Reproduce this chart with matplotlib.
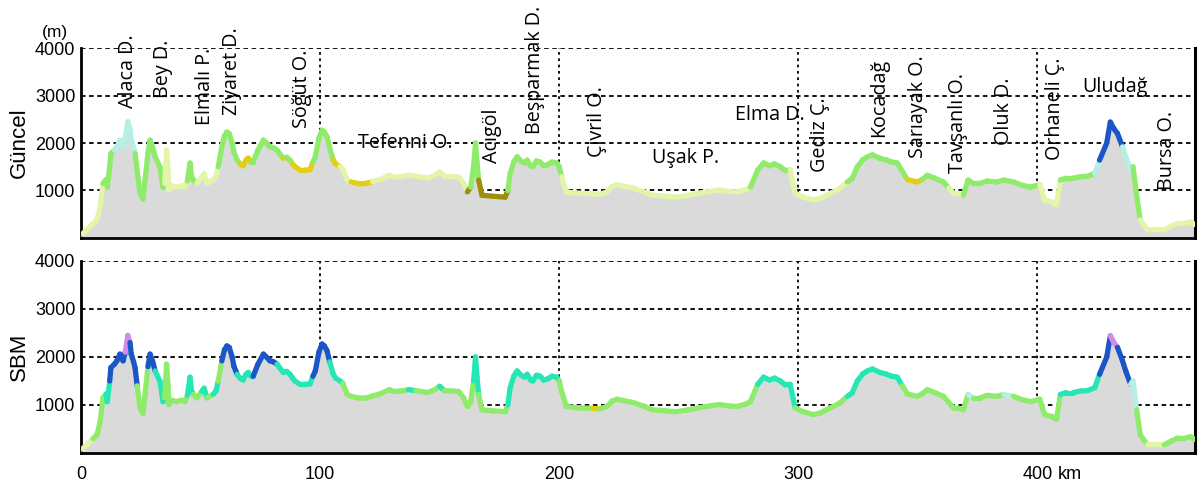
import numpy as np
import matplotlib
matplotlib.use("Agg")
import matplotlib.pyplot as plt
from matplotlib.collections import LineCollection

# --- elevation profile (km along route, elevation in m) ---
KM = [0.5, 3, 5, 6.7, 8, 9.2, 10.5, 11, 12, 12.5, 14, 15, 16.3, 17.6, 18.5, 19.6, 20.5, 21, 22,
      22.6, 23.5, 24.7, 25.9, 26.8, 28, 28.9, 30, 31, 32, 33, 34.3, 35, 35.8, 36.4, 36.8, 38, 40,
      42, 43.5, 44.5, 45.6, 46.2, 47, 48.5, 50.6, 51.5, 52.7, 55.3, 56.5, 57.4, 58.9, 60, 61, 62,
      63.2, 64, 65.3, 66.5, 67.8, 69, 70, 71, 72, 74, 76.3, 78, 79, 80.5, 82, 83, 84.6, 86, 87.4,
      88.5, 89.5, 91.6, 93.5, 95.8, 97, 98, 99.5, 100.8, 101.8, 102.9, 104, 105.5, 106.5, 108.4,
      109.5, 111.3, 113, 116.7, 119.5, 122, 125, 129, 131, 133.5, 137, 140, 145, 148, 150, 152,
      155.6, 158, 160, 161.6, 163, 164.2, 165, 165.6, 166.3, 167.7, 172, 177.4, 178.5, 179.5, 181,
      182.4, 184, 185.5, 186.6, 188, 189, 190.5, 192, 193.5, 195, 197, 199, 200, 201, 203, 206,
      209, 214, 217, 220, 222, 224, 227, 231, 235, 239, 244, 249, 254, 258, 263, 267, 271, 274.5,
      278, 280, 283, 285.5, 288, 290, 292.5, 294.5, 296.6, 298.7, 302, 306.3, 309, 313.4, 317,
      320.5, 322.5, 324.7, 327, 328.9, 331, 334, 337, 339, 341.4, 343.5, 345.6, 349.8, 352, 354,
      357, 360.7, 363, 364.9, 367, 369, 371, 373, 376, 379, 383, 386, 390, 393, 397, 401, 403, 406,
      408, 409.6, 412, 415, 418, 421, 424, 426, 429, 430.5, 432, 433.5, 435.6, 437, 439, 440,
      441.5, 443, 446, 449, 453, 456, 458.6, 461, 464, 466]
ELEV = [80, 200, 300, 380, 650, 1150, 1230, 1070, 1500, 1780, 1850, 1920, 2060, 1920, 2100, 2450,
        2300, 2060, 1900, 1780, 1400, 940, 820, 1220, 1800, 2060, 1900, 1710, 1600, 1500, 1070,
        1150, 1850, 1400, 1010, 1100, 1070, 1100, 1070, 1200, 1580, 1300, 1220, 1150, 1290, 1350,
        1150, 1220, 1300, 1500, 1920, 2150, 2230, 2200, 2000, 1800, 1640, 1560, 1520, 1640, 1680,
        1600, 1600, 1850, 2060, 1980, 1920, 1900, 1850, 1780, 1680, 1700, 1640, 1560, 1500, 1430,
        1430, 1440, 1600, 1710, 2100, 2270, 2230, 2130, 1900, 1640, 1560, 1500, 1450, 1220, 1180,
        1140, 1150, 1190, 1230, 1320, 1280, 1290, 1320, 1300, 1260, 1320, 1390, 1300, 1290, 1280,
        1150, 970, 1070, 1500, 2000, 1600, 1220, 900, 880, 860, 1000, 1360, 1600, 1710, 1620,
        1580, 1640, 1520, 1500, 1620, 1600, 1520, 1540, 1600, 1580, 1500, 1290, 970, 950, 940,
        930, 920, 970, 1080, 1120, 1090, 1050, 980, 900, 880, 860, 900, 940, 980, 1010, 980, 970,
        1020, 1070, 1430, 1580, 1520, 1560, 1500, 1420, 1430, 940, 860, 800, 830, 940, 1030, 1180,
        1250, 1500, 1650, 1710, 1750, 1680, 1640, 1600, 1580, 1400, 1230, 1180, 1240, 1320, 1260,
        1180, 1050, 940, 930, 900, 1220, 1150, 1150, 1200, 1180, 1220, 1180, 1120, 1070, 1120, 800,
        760, 700, 1220, 1260, 1260, 1290, 1300, 1360, 1640, 2000, 2440, 2300, 2200, 1920, 1700,
        1430, 1500, 900, 380, 170, 180, 170, 250, 310, 300, 340, 280]

# --- colour classes along the route (class starts at given km) ---
GUNCEL_START = [0, 9, 14, 22.6, 35, 44.5, 48, 57, 66, 71, 84, 86.5, 89, 97, 105, 108, 113, 122,
                133, 134.5, 144, 146, 161, 163, 166.3, 178.5, 201, 248, 251, 273, 276, 281, 297,
                305, 307.5, 320, 346, 351, 362, 370, 402, 409, 424, 427.5, 436, 440, 443]
GUNCEL_CLASS = ["pale", "green", "aqua", "green", "pale", "green", "pale", "green", "yellow",
                "green", "yellow", "green", "yellow", "green", "yellow", "pale", "yellow", "pale",
                "yellow", "pale", "yellow", "pale", "olive", "green", "olive", "green", "pale",
                "olive", "pale", "yellow", "pale", "green", "pale", "olive", "pale", "green",
                "yellow", "green", "pale", "green", "pale", "green", "aqua", "blue", "aqua",
                "green", "pale"]

SBM_START = [0, 5, 10, 12, 19, 20.5, 23.5, 27.5, 31, 35, 44.5, 47, 50, 53, 55.3, 57.4, 59, 65.3,
             73, 82.5, 97.5, 104, 109.5, 128, 129.5, 138, 140, 150, 152, 164, 166.3, 179, 200.5,
             213, 217, 248, 251, 282, 298, 321, 343.5, 371, 373, 387, 390, 410, 426, 430, 433.5,
             439, 441.5, 447, 452]
SBM_CLASS = ["pale", "green", "teal", "blue", "violet", "blue", "green", "blue", "teal", "green",
             "teal", "green", "teal", "green", "teal", "green", "blue", "teal", "blue", "teal",
             "blue", "teal", "green", "teal", "green", "teal", "green", "teal", "green", "teal",
             "green", "teal", "green", "yellow", "green", "yellow", "green", "teal", "green",
             "teal", "green", "aqua", "green", "aqua", "green", "teal", "blue", "violet", "blue",
             "aqua", "green", "pale", "green"]

COLORS = {
    "pale": "#e3f5a8",
    "green": "#8eec6a",
    "aqua": "#b6f0e2",
    "yellow": "#e2cf14",
    "olive": "#9f8e0a",
    "blue": "#1b55c6",
    "teal": "#25e6b5",
    "violet": "#d48be8",
}

# --- place names in the upper panel ---
NAMES = ["Alaca D.", "Bey D.", "Elmalı P.", "Ziyaret D.", "Söğüt O.", "Tefenni O.", "Acıgöl",
         "Beşparmak D.", "Çivril O.", "Uşak P.", "Elma D.", "Gediz Ç.", "Kocadağ", "Sarıayak O.",
         "Tavşanlı O.", "Oluk D.", "Orhaneli Ç.", "Uludağ", "Bursa O."]
NAME_KM = [19.7, 34.3, 52, 63, 92.5, 135.6, 172, 190, 216, 253, 288, 309, 334, 350, 367, 386,
           407.5, 432.6, 454.4]
NAME_ELEV = [2740, 2950, 2380, 2590, 2310, 2000, 1570, 2200, 1710, 1680, 2590, 1390, 2130, 1680,
             1370, 1960, 1640, 3180, 1010]
NAME_ROT = [True, True, True, True, True, False, True, True, True, False, False, True, True,
            True, True, True, True, False, True]

Y_TICKS = [1000, 2000, 3000, 4000]
X_TICKS = [0, 100, 200, 300, 400]

LABEL_FONT = ["Open Sans", "DejaVu Sans"]
AXIS_FONT = ["Liberation Sans", "DejaVu Sans"]


def draw_profile(ax, starts, classes):
    km = np.array(KM)
    el = np.array(ELEV)
    ax.fill_between(km, 0, el, color="#dadada", lw=0, zorder=2)
    pts = np.column_stack([km, el]).reshape(-1, 1, 2)
    segs = np.concatenate([pts[:-1], pts[1:]], axis=1)
    mid = (km[:-1] + km[1:]) / 2
    idx = np.searchsorted(starts, mid, side="right") - 1
    cols = [COLORS[classes[i]] for i in idx]
    lc = LineCollection(segs, colors=cols, linewidths=3.8, capstyle="round",
                        joinstyle="round", zorder=3)
    ax.add_collection(lc)

    for y in Y_TICKS:
        ax.axhline(y, color="black", ls=(0, (2.5, 2)), lw=1.3, zorder=1)
    for x in X_TICKS[1:]:
        ax.axvline(x, color="black", ls=(0, (1.5, 2)), lw=1.3, zorder=1)

    ax.set_xlim(0, 466)
    ax.set_ylim(0, 4000)
    ax.set_yticks(Y_TICKS)
    ax.set_yticklabels([str(v) for v in Y_TICKS], family=AXIS_FONT, fontsize=13)
    ax.tick_params(length=0, pad=4)
    ax.spines["top"].set_visible(False)
    for s in ["left", "bottom", "right"]:
        ax.spines[s].set_linewidth(2)
    ax.spines["right"].set_linewidth(2.2)


fig = plt.figure(figsize=(12, 4.86), dpi=100)
ax1 = fig.add_axes([0.0675, 0.5103, 0.9285, 0.3909])
ax2 = fig.add_axes([0.0675, 0.0679, 0.9285, 0.3951])

draw_profile(ax1, GUNCEL_START, GUNCEL_CLASS)
draw_profile(ax2, SBM_START, SBM_CLASS)

ax1.set_xticks([])
ax2.set_xticks(X_TICKS)
ax2.set_xticklabels([str(v) for v in X_TICKS], family=AXIS_FONT, fontsize=13)
ax2.tick_params(axis="x", pad=9)
ax2.annotate("km", xy=(400, 0), xycoords="data", xytext=(15, -9), textcoords="offset points",
             ha="left", va="top", family=AXIS_FONT, fontsize=13)

ax1.set_ylabel("Güncel", family=AXIS_FONT, fontsize=16, labelpad=4)
ax2.set_ylabel("SBM", family=AXIS_FONT, fontsize=16, labelpad=4)
ax1.text(-0.023, 1.08, "(m)", transform=ax1.transAxes, ha="center", va="center",
         family=AXIS_FONT, fontsize=12.5)

for name, x, y, rot in zip(NAMES, NAME_KM, NAME_ELEV, NAME_ROT):
    if rot:
        ax1.text(x, y, name, rotation=90, ha="center", va="bottom", family=LABEL_FONT,
                 fontsize=14.2, zorder=5)
    else:
        ax1.text(x, y, name, ha="center", va="center", family=LABEL_FONT,
                 fontsize=14.2, zorder=5)

fig.savefig("out.png", dpi=100)
